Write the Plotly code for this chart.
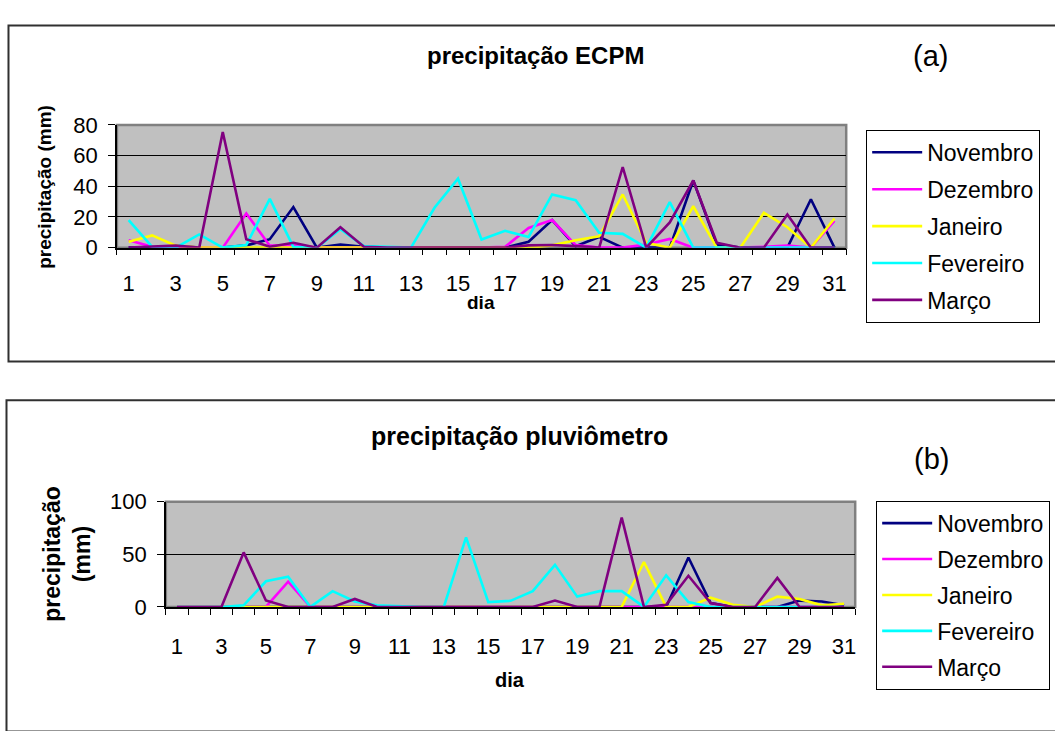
import plotly.graph_objects as go

# ---------------- data ----------------
days = list(range(1, 32))
tick_days = list(range(1, 32, 2))
months = ["Novembro", "Dezembro", "Janeiro", "Fevereiro", "Março"]
colors = ["#000080", "#FF00FF", "#FFFF00", "#00FFFF", "#800080"]

# (a) precipitação ECPM
ecpm_nov = [0, 0, 1, 0, 0, 1.5, 5.5, 26.5, 0, 2, 0.5, 0, 0, 0, 0, 0, 0, 3.8, 18, 1, 7, 0, 0, 0, 43.8, 2, 0, 0, 0, 31.6, 0]
ecpm_dez = [4.8, 0.6, 0, 0, 0, 22.3, 1.3, 1.5, 0, 0, 0, 0, 0, 0, 0, 0, 0.5, 12.8, 18, 1.7, 0, 0, 2, 5.7, 0, 0, 0, 0.5, 1.3, 0, 17.5]
ecpm_jan = [3.8, 8, 1.3, 0, 0, 0, 0, 0, 0, 0, 0, 0, 0, 0, 0, 0, 0, 0, 1.5, 4.8, 7.4, 34.7, 3.2, 0, 27, 0, 0, 22.7, 13.3, 0, 19]
ecpm_fev = [18, 0.5, 0, 8.6, 0, 1.7, 31.8, 0.5, 0, 12, 1, 0.5, 0, 26, 45, 5.3, 11, 7, 34.7, 31, 9.7, 9, 0, 29.7, 0, 0, 0, 0, 0, 0, 0]
ecpm_mar = [0, 0.5, 1.3, 0, 75.4, 5.5, 0.6, 3.2, 0, 13.3, 0.6, 0, 0, 0, 0, 0, 0, 1.5, 1.7, 1, 0, 52.6, 0, 16.4, 43.8, 3.2, 0, 0, 21.7, 0, 0]

# (b) precipitação pluviômetro
pluv_nov = [0, 0, 0, 0, 0, 0, 0, 0, 0, 0, 0, 0, 0, 0, 0, 0, 0, 0, 0, 0, 0, 0, 0, 47, 3.7, 0, 0, 0, 6, 5.2, 1.5]
pluv_dez = [0, 0, 0, 0, 0, 24, 0, 0, 0, 0, 0, 0, 0, 0, 0, 0, 0, 0, 0, 0, 0.5, 0, 0, 0, 0, 0, 0, 0, 0, 0, 0]
pluv_jan = [0, 0, 0, 0, 0, 0, 0, 0, 0, 0, 0, 0, 0, 0, 0, 0, 0, 0, 0, 0, 0, 42.7, 0, 0, 8.8, 2, 0, 9.8, 7.6, 1.5, 3]
pluv_fev = [0, 0, 0, 1.5, 24.4, 28.7, 0, 15, 5.2, 1.5, 0.5, 0, 0, 66, 4.6, 5.8, 15, 40, 9.8, 15, 15, 0, 30, 4.6, 0, 0, 0, 0, 0, 0, 0]
pluv_mar = [0, 0, 0, 51.8, 6.1, 0, 0, 0, 7.6, 0, 0, 0, 0, 0, 0, 0, 0, 6.1, 0, 0, 85, 0, 2, 29.6, 3.7, 0, 0, 27.5, 0, 0, 0]

ecpm = [ecpm_nov, ecpm_dez, ecpm_jan, ecpm_fev, ecpm_mar]
pluv = [pluv_nov, pluv_dez, pluv_jan, pluv_fev, pluv_mar]

# ---------------- figure ----------------
W, H = 1055, 731
FONT = "Arial, Liberation Sans, sans-serif"

def px(x):
    return x / W

def py(y):
    return 1 - y / H

fig = go.Figure()

for name, col, vals in zip(months, colors, ecpm):
    fig.add_trace(go.Scatter(x=days, y=vals, mode="lines", name=name,
                             line=dict(color=col, width=2.6),
                             xaxis="x", yaxis="y", legend="legend",
                             legendgroup="a_" + name))
for name, col, vals in zip(months, colors, pluv):
    fig.add_trace(go.Scatter(x=days, y=vals, mode="lines", name=name,
                             line=dict(color=col, width=2.6),
                             xaxis="x2", yaxis="y2", legend="legend2",
                             legendgroup="b_" + name))

half_ticks = [d - 0.5 for d in days] + [days[-1] + 0.5]

def xaxis_cfg(domain, anchor, standoff):
    return dict(domain=domain, anchor=anchor, range=[0.5, 31.5],
                tickmode="array", tickvals=tick_days,
                ticktext=[str(d) for d in tick_days],
                ticks="", showgrid=False, zeroline=False,
                showline=True, linecolor="black", linewidth=1.5,
                tickfont=dict(family=FONT, size=22, color="black"),
                ticklabelstandoff=standoff,
                minor=dict(tickmode="array", tickvals=half_ticks, ticks="outside",
                           ticklen=6, tickwidth=1, tickcolor="black", showgrid=False))

def yaxis_cfg(domain, anchor, rng, dtick):
    return dict(domain=domain, anchor=anchor, range=rng, dtick=dtick,
                tick0=0, ticks="outside", ticklen=7, tickwidth=1, tickcolor="black",
                showgrid=True, gridcolor="black", gridwidth=1,
                zeroline=False, showline=True, linecolor="black", linewidth=1.5,
                tickfont=dict(family=FONT, size=22, color="black"),
                ticklabelstandoff=6)

fig.update_layout(
    width=W, height=H,
    margin=dict(l=0, r=0, t=0, b=0),
    paper_bgcolor="white",
    plot_bgcolor="#C0C0C0",
    font=dict(family=FONT, color="black"),
    xaxis=xaxis_cfg([px(117), px(847)], "y", 15),
    yaxis=yaxis_cfg([py(244), py(117)], "x", [0, 80], 20),
    xaxis2=xaxis_cfg([px(166), px(856)], "y2", 19),
    yaxis2=yaxis_cfg([py(616), py(507)], "x2", [0, 100], 50),
    legend=dict(x=px(867), y=py(122), xanchor="left", yanchor="top",
                bgcolor="white", bordercolor="black", borderwidth=1,
                font=dict(family=FONT, size=23, color="black"),
                traceorder="grouped", tracegroupgap=4, itemwidth=50),
    legend2=dict(x=px(877), y=py(506), xanchor="left", yanchor="top",
                 bgcolor="white", bordercolor="black", borderwidth=1,
                 font=dict(family=FONT, size=23, color="black"),
                 traceorder="grouped", tracegroupgap=3, itemwidth=50),
)

# plot-area top/right border (gray) and outer chart frames
for xr, yr in [("x domain", "y domain"), ("x2 domain", "y2 domain")]:
    fig.add_shape(type="rect", xref=xr, yref=yr, x0=0, x1=1, y0=0, y1=1,
                  line=dict(color="#808080", width=2.5), layer="below")
fig.add_shape(type="rect", xref="paper", yref="paper",
              x0=px(8.5), x1=px(1062), y0=py(362), y1=py(14),
              line=dict(color="#303030", width=2))
fig.add_shape(type="rect", xref="paper", yref="paper",
              x0=px(6.5), x1=px(1062), y0=py(745), y1=py(402),
              line=dict(color="#303030", width=2))

ann = []
ann.append(dict(text="<b>precipitação ECPM</b>", x=px(536), y=py(45),
                font=dict(family=FONT, size=24)))
ann.append(dict(text="(a)", x=px(931), y=py(46), font=dict(family=FONT, size=29)))
ann.append(dict(text="<b>precipitação pluviômetro</b>", x=px(520), y=py(439),
                font=dict(family=FONT, size=25)))
ann.append(dict(text="(b)", x=px(932), y=py(463), font=dict(family=FONT, size=29)))
ann.append(dict(text="<b>dia</b>", x=px(481), y=py(301), font=dict(family=FONT, size=19)))
ann.append(dict(text="<b>dia</b>", x=px(510), y=py(692), font=dict(family=FONT, size=20)))
ann.append(dict(text="<b>precipitação (mm)</b>", x=px(45), y=py(181), textangle=-90,
                font=dict(family=FONT, size=19)))
ann.append(dict(text="<b>precipitação<br>(mm)</b>", x=px(67), y=py(561), textangle=-90,
                font=dict(family=FONT, size=23)))
for a in ann:
    a.update(xref="paper", yref="paper", showarrow=False, xanchor="center", yanchor="middle")
fig.update_layout(annotations=ann)

fig.write_html("out.html")
